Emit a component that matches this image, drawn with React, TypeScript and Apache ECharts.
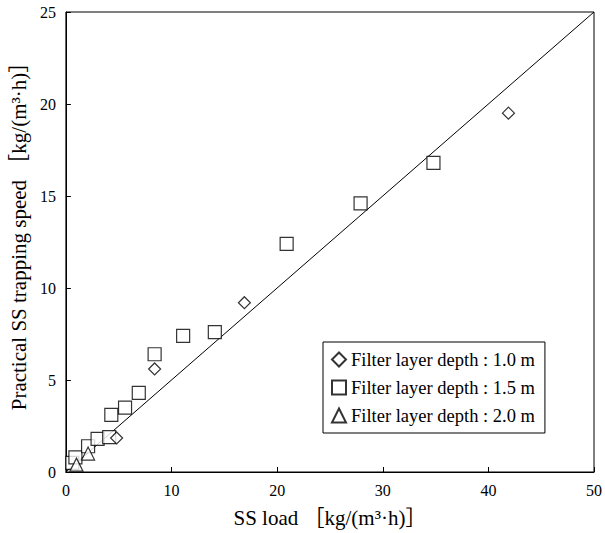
import React, { useEffect, useRef } from "react";
import * as echarts from "echarts";

const depth10: number[][] = [[4.8, 1.85], [8.4, 5.6], [16.9, 9.2], [41.9, 19.5]];
const depth15: number[][] = [
  [0.6, 0.5], [0.9, 0.8], [2.1, 1.4], [3.0, 1.8], [4.1, 1.9], [4.3, 3.1], [5.6, 3.5],
  [6.9, 4.3], [8.4, 6.4], [11.1, 7.4], [14.1, 7.6], [20.9, 12.4], [27.9, 14.6], [34.8, 16.8],
];
const depth20: number[][] = [[1.0, 0.4], [2.1, 1.0]];
const refLine: number[][] = [[0, 0], [50, 25]];
const seriesNames = [
  "Filter layer depth : 1.0 m",
  "Filter layer depth : 1.5 m",
  "Filter layer depth : 2.0 m",
];

const FONT = "'Liberation Serif', 'Times New Roman', 'Noto Sans CJK JP', serif";

export default function App() {
  const ref = useRef<HTMLDivElement>(null);
  useEffect(() => {
    if (!ref.current) return;
    const chart = echarts.init(ref.current, null, { renderer: "svg" });
    const mk = { color: "#fff", borderColor: "#000", borderWidth: 1.2 };
    chart.setOption({
      animation: false,
      backgroundColor: "#fff",
      textStyle: { fontFamily: FONT, color: "#000" },
      grid: {
        left: 63, right: 7, top: 12, bottom: 61,
        show: true, borderColor: "#000", borderWidth: 1, backgroundColor: "transparent",
      },
      xAxis: {
        type: "value", min: 0, max: 50, interval: 10,
        name: "SS load ［kg/(m³·h)］", nameLocation: "middle", nameGap: 35,
        nameTextStyle: { fontFamily: FONT, fontSize: 21, color: "#000" },
        axisLine: { show: true, lineStyle: { color: "#000" } },
        axisTick: { inside: true, length: 5, lineStyle: { color: "#000" } },
        axisLabel: { fontFamily: FONT, fontSize: 16, color: "#000", margin: 10 },
        splitLine: { show: false },
      },
      yAxis: {
        type: "value", min: 0, max: 25, interval: 5,
        name: "Practical SS trapping speed ［kg/(m³·h)］", nameLocation: "middle", nameGap: 34,
        nameTextStyle: { fontFamily: FONT, fontSize: 21, color: "#000", padding: [0, 0, 0, 22] },
        axisLine: { show: true, lineStyle: { color: "#000" } },
        axisTick: { inside: true, length: 5, lineStyle: { color: "#000" } },
        axisLabel: { fontFamily: FONT, fontSize: 16, color: "#000", margin: 10 },
        splitLine: { show: false },
      },
      legend: {
        data: seriesNames,
        orient: "vertical",
        left: 323, top: 342,
        padding: [8, 10, 8, 8],
        itemGap: 9,
        itemWidth: 14, itemHeight: 14,
        borderColor: "#000", borderWidth: 1, backgroundColor: "#fff",
        textStyle: { fontFamily: FONT, fontSize: 18.5, color: "#000", lineHeight: 19 },
      },
      series: [
        {
          type: "line", data: refLine, showSymbol: false, symbol: "none",
          lineStyle: { color: "#000", width: 1 }, z: 1, silent: true,
        },
        {
          name: seriesNames[0], type: "scatter", data: depth10, symbol: "diamond",
          symbolSize: 12, itemStyle: mk, z: 3,
        },
        {
          name: seriesNames[1], type: "scatter", data: depth15, symbol: "rect",
          symbolSize: 13, itemStyle: mk, z: 2,
        },
        {
          name: seriesNames[2], type: "scatter", data: depth20, symbol: "triangle",
          symbolSize: 13, itemStyle: mk, z: 4,
        },
      ],
    });
    return () => chart.dispose();
  }, []);
  return (
    <div
      ref={ref}
      style={{ position: "fixed", left: 0, top: 0, width: 605, height: 533 }}
    />
  );
}
